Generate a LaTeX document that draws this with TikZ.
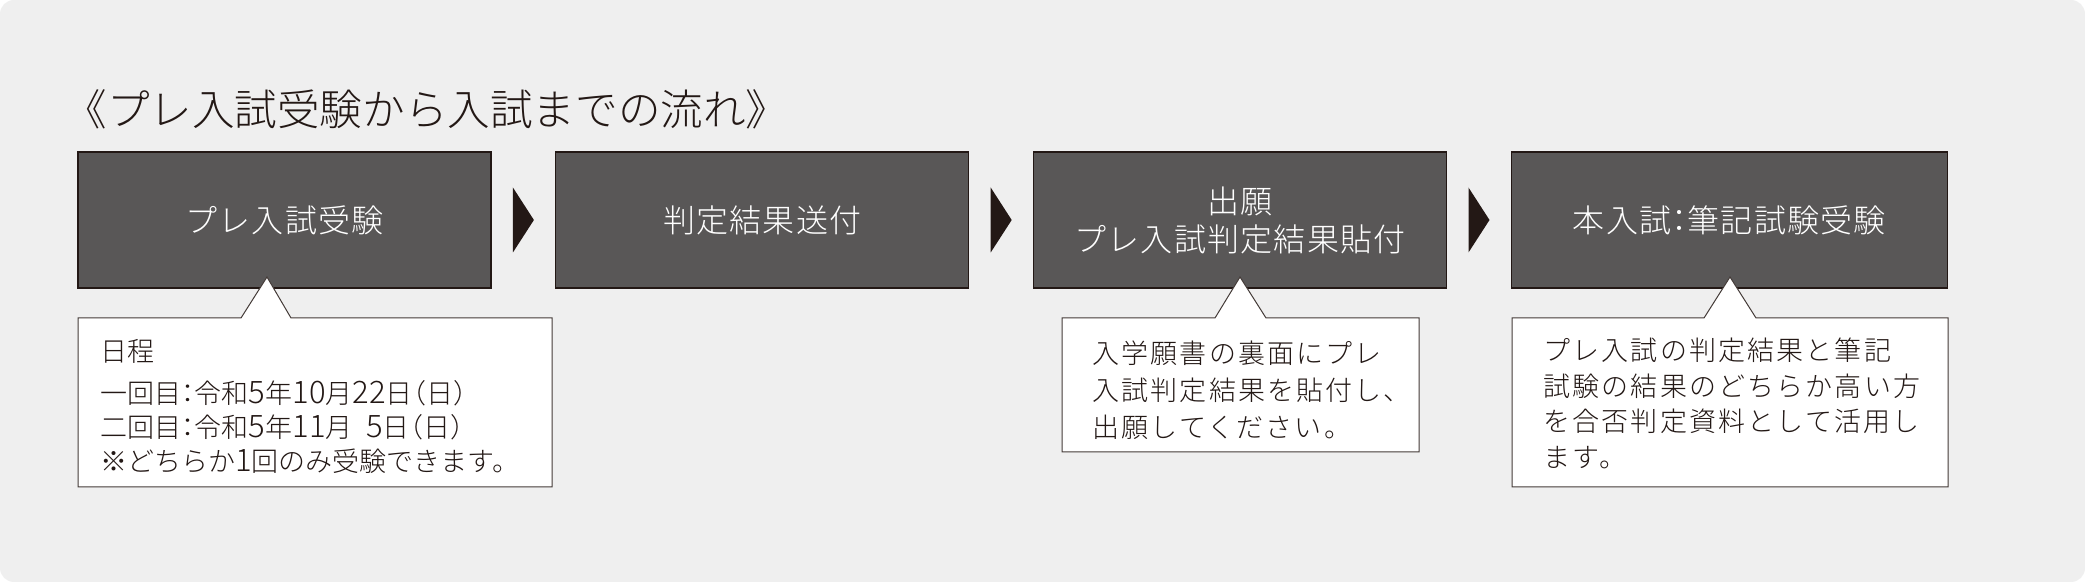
\documentclass[tikz,border=0pt]{standalone}
\usepackage{fontspec}
\setmainfont{Noto Sans CJK JP}[UprightFont=* Light]
\newfontfamily\jpbox[UprightFont=* Light, LetterSpace=4]{Noto Sans CJK JP}
\newfontfamily\jpnote[UprightFont=* Light, LetterSpace=8]{Noto Sans CJK JP}
\usetikzlibrary{positioning}
\definecolor{bggray}{HTML}{EFEFEF}
\definecolor{boxgray}{HTML}{595757}
\definecolor{ink}{HTML}{231815}
\newcommand{\hcolon}{{\addfontfeature{RawFeature=+halt}：}}
\newcommand{\hparen}[1]{{\addfontfeature{RawFeature=+halt}（#1）}}
\newcommand{\wnum}[1]{{\fontsize{15.5pt}{17pt}\selectfont #1}}
\tikzstyle{stepbox} = [rectangle, minimum width=206.5pt, minimum height=68pt, inner sep=0pt, align=center, draw=ink, line width=0.6pt, fill=boxgray, text=white, font=\jpbox\fontsize{16pt}{19pt}\selectfont]
\tikzstyle{note} = [draw=ink!85, line width=0.5pt, fill=white]
\tikzstyle{notetext} = [anchor=west, inner sep=0pt, align=left, text=ink]
\tikzstyle{marker} = [fill=ink]

\begin{document}
\begin{tikzpicture}[x=0.5pt, y=-0.5pt, node distance=31.8pt]
\useasboundingbox (0,0) rectangle (2085,582);
\fill[bggray, rounded corners=7pt] (0,0) rectangle (2085,582);

\node (title) [anchor=west, inner sep=0pt, text=ink, font=\fontsize{21.3pt}{24pt}\selectfont] at (64,109) {《プレ入試受験から入試までの流れ》};

% steps
\node (pre) [stepbox] at (284.5,220) {プレ入試受験};
\node (sent) [stepbox, right=of pre] {判定結果送付};
\node (apply) [stepbox, right=of sent] {出願\\プレ入試判定結果貼付};
\node (main) [stepbox, right=of apply, minimum width=218pt] {本入試\hcolon 筆記試験受験};

\foreach \a/\b in {pre/sent, sent/apply, apply/main}
  {\path (\a.east) -- (\b.west) coordinate[midway] (m);
   \fill[marker] (m) ++(-10.5,-32.5) -- ++(21,32.5) -- ++(-21,32.5) -- cycle;}

% notes
\draw[note] (78,318) -- (241,318) -- (267,277) -- (291,318) -- (552,318) -- (552,487) -- (78,487) -- cycle;
\draw[note] (1062,318) -- (1215,318) -- (1240,277) -- (1266,318) -- (1419,318) -- (1419,452) -- (1062,452) -- cycle;
\draw[note] (1512,318) -- (1704,318) -- (1730,277) -- (1756,318) -- (1948,318) -- (1948,487) -- (1512,487) -- cycle;

\node (sched) [notetext, font=\fontsize{13.5pt}{17pt}\selectfont] at (100,406.5) {日程\\[4pt]一回目\hcolon 令和\wnum{5}年\wnum{10}月\wnum{22}日\hparen{日}\\二回目\hcolon 令和\wnum{5}年\wnum{11}月\enspace\wnum{5}日\hparen{日}\\※どちらか\wnum{1}回のみ受験できます。};
\node (paste) [notetext, font=\jpnote\fontsize{13.5pt}{18.5pt}\selectfont] at (1092,390) {入学願書の裏面にプレ\\入試判定結果を貼付し、\\出願してください。};
\node (use) [notetext, font=\jpnote\fontsize{13.5pt}{17.8pt}\selectfont] at (1543,403.5) {プレ入試の判定結果と筆記\\試験の結果のどちらか高い方\\を合否判定資料として活用し\\ます。};
\end{tikzpicture}
\end{document}
